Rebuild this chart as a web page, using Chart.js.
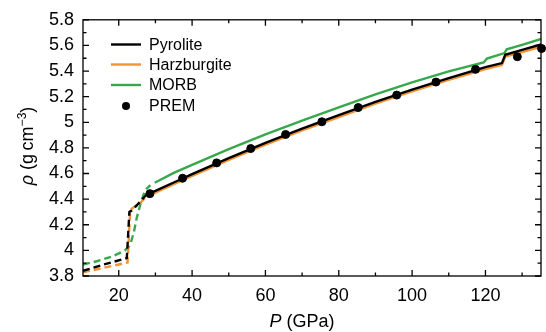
<!DOCTYPE html>
<html>
<head>
<meta charset="utf-8">
<script src="https://cdn.jsdelivr.net/npm/chart.js@4"></script>
<style>
	body { margin: 0; background: #fff; }
	canvas { display: block; }
</style>
</head>
<body>
<canvas id="chart" width="546" height="332"></canvas>
<script>
// axis ticks
const pressureTicks = [20, 40, 60, 80, 100, 120];
const pressureTickLabels = ['20', '40', '60', '80', '100', '120'];
const pressureMinor = [30, 50, 70, 90, 110, 130];
const densityTicks = [3.8, 4, 4.2, 4.4, 4.6, 4.8, 5, 5.2, 5.4, 5.6, 5.8];
const densityTickLabels = ['3.8', '4', '4.2', '4.4', '4.6', '4.8', '5', '5.2', '5.4', '5.6', '5.8'];
const densityMinor = [3.9, 4.1, 4.3, 4.5, 4.7, 4.9, 5.1, 5.3, 5.5, 5.7];

// pyrolite (dashed below ~28 GPa, solid above)
const pyroliteLowP = [10.25, 16, 22.2, 22.9, 23.9, 27.6];
const pyroliteLowRho = [3.84, 3.89, 3.94, 4.3, 4.32, 4.436];
const pyroliteP = [27.6, 30, 35, 40, 50, 60, 70, 80, 90, 100, 110, 120, 124.5, 125.4, 130, 135.2];
const pyroliteRho = [4.436, 4.465, 4.53, 4.595, 4.72, 4.84, 4.95, 5.055, 5.16, 5.255, 5.345, 5.43, 5.462, 5.527, 5.565, 5.607];

// harzburgite
const harzLowP = [10.25, 16, 22.4, 23.1, 23.5, 25.7, 27.6];
const harzLowRho = [3.828, 3.865, 3.905, 4.3, 4.325, 4.367, 4.42];
const harzP = [27.6, 30, 35, 40, 50, 60, 70, 80, 90, 100, 110, 120, 124.5, 125.4, 130, 135.2];
const harzRho = [4.42, 4.451, 4.516, 4.581, 4.706, 4.826, 4.936, 5.041, 5.146, 5.241, 5.331, 5.416, 5.448, 5.512, 5.548, 5.59];

// MORB
const morbLowP = [10.25, 14, 18, 21.6, 22.6, 23.2, 24.1, 24.9, 25.8, 26.7, 27.5, 28.6];
const morbLowRho = [3.89, 3.915, 3.95, 3.998, 4.025, 4.05, 4.14, 4.253, 4.35, 4.431, 4.478, 4.51];
const morbP = [29.8, 35, 40, 50, 60, 70, 80, 90, 100, 110, 119.5, 120.4, 125.2, 125.8, 130, 135.2];
const morbRho = [4.528, 4.605, 4.668, 4.79, 4.905, 5.012, 5.117, 5.218, 5.312, 5.397, 5.467, 5.497, 5.54, 5.57, 5.605, 5.65];

// PREM
const premP = [28.5, 37.4, 46.7, 56.0, 65.5, 75.4, 85.3, 95.8, 106.5, 117.3, 128.7, 135.3];
const premRho = [4.443, 4.563, 4.683, 4.795, 4.905, 5.004, 5.115, 5.212, 5.314, 5.413, 5.512, 5.576];

const BLACK = '#000000';
const ORANGE = '#f39237';
const GREEN = '#37a84c';
const FONT = "'Liberation Sans', Arial, sans-serif";

function points(xs, ys) {
	return xs.map((x, i) => ({ x, y: ys[i] }));
}

function line(label, xs, ys, color, dashed) {
	return {
		label,
		data: points(xs, ys),
		borderColor: color,
		backgroundColor: color,
		borderWidth: 2.4,
		borderDash: dashed ? [7, 4] : [],
		pointRadius: 0,
		tension: 0,
		showLine: true,
	};
}

const legendItems = [
	{ text: 'Pyrolite', color: BLACK, y: 44.5 },
	{ text: 'Harzburgite', color: ORANGE, y: 64.5 },
	{ text: 'MORB', color: GREEN, y: 85 },
	{ text: 'PREM', color: BLACK, y: 106, dot: true },
];

const framePlugin = {
	id: 'frame',
	afterDatasetsDraw(chart) {
		const { ctx, chartArea: a, scales } = chart;
		const x = scales.x;
		const y = scales.y;
		ctx.save();
		ctx.strokeStyle = '#000';
		ctx.lineWidth = 1.3;
		ctx.strokeRect(a.left, a.top, a.right - a.left, a.bottom - a.top);
		ctx.beginPath();
		const xt = (vals, len) => vals.forEach((v) => {
			const px = x.getPixelForValue(v);
			ctx.moveTo(px, a.bottom); ctx.lineTo(px, a.bottom - len);
			ctx.moveTo(px, a.top); ctx.lineTo(px, a.top + len);
		});
		const yt = (vals, len) => vals.forEach((v) => {
			const py = y.getPixelForValue(v);
			ctx.moveTo(a.left, py); ctx.lineTo(a.left + len, py);
			ctx.moveTo(a.right, py); ctx.lineTo(a.right - len, py);
		});
		xt(pressureTicks, 6);
		xt(pressureMinor, 3.5);
		yt(densityTicks, 6);
		yt(densityMinor, 3.5);
		ctx.stroke();

		// legend
		ctx.font = `16px ${FONT}`;
		ctx.textBaseline = 'middle';
		ctx.fillStyle = '#000';
		legendItems.forEach((it) => {
			if (it.dot) {
				ctx.beginPath();
				ctx.arc(126, it.y, 4, 0, Math.PI * 2);
				ctx.fillStyle = it.color;
				ctx.fill();
			} else {
				ctx.beginPath();
				ctx.strokeStyle = it.color;
				ctx.lineWidth = 2.4;
				ctx.moveTo(111, it.y);
				ctx.lineTo(141, it.y);
				ctx.stroke();
			}
			ctx.fillStyle = '#000';
			ctx.fillText(it.text, 149, it.y + 1);
		});

		// x title: P (GPa)
		ctx.font = `italic 18px ${FONT}`;
		const p1 = 'P';
		const w1 = ctx.measureText(p1).width;
		ctx.font = `18px ${FONT}`;
		const p2 = ' (GPa)';
		const w2 = ctx.measureText(p2).width;
		let sx = 302 - (w1 + w2) / 2;
		ctx.textBaseline = 'alphabetic';
		ctx.font = `italic 18px ${FONT}`;
		ctx.fillText(p1, sx, 327);
		ctx.font = `18px ${FONT}`;
		ctx.fillText(p2, sx + w1, 327);

		// y title: rho (g cm^-3)
		ctx.translate(33, 146);
		ctx.rotate(-Math.PI / 2);
		const parts = [
			{ t: '\u03c1', f: `italic 18px ${FONT}`, dy: 0 },
			{ t: ' (g\u2009cm', f: `18px ${FONT}`, dy: 0 },
			{ t: '\u22123', f: `12px ${FONT}`, dy: -7 },
			{ t: ')', f: `18px ${FONT}`, dy: 0 },
		];
		let total = 0;
		parts.forEach((p) => { ctx.font = p.f; p.w = ctx.measureText(p.t).width; total += p.w; });
		let cx = -total / 2;
		parts.forEach((p) => {
			ctx.font = p.f;
			ctx.fillText(p.t, cx, p.dy);
			cx += p.w;
		});
		ctx.restore();
	},
};

new Chart(document.getElementById('chart'), {
	type: 'scatter',
	data: {
		datasets: [
			{
				label: 'PREM',
				data: points(premP, premRho),
				backgroundColor: BLACK,
				borderColor: BLACK,
				pointRadius: 4,
				pointHoverRadius: 4,
				showLine: false,
				clip: false,
			},
			line('Pyrolite', pyroliteP, pyroliteRho, BLACK, false),
			line('Pyrolite low P', pyroliteLowP, pyroliteLowRho, BLACK, true),
			line('Harzburgite', harzP, harzRho, ORANGE, false),
			line('Harzburgite low P', harzLowP, harzLowRho, ORANGE, true),
			line('MORB', morbP, morbRho, GREEN, false),
			line('MORB low P', morbLowP, morbLowRho, GREEN, true),
		],
	},
	options: {
		responsive: false,
		animation: false,
		devicePixelRatio: 1,
		layout: { padding: { top: 14, right: 1, left: 0, bottom: 0 } },
		plugins: {
			legend: { display: false },
			tooltip: { enabled: false },
		},
		scales: {
			x: {
				type: 'linear',
				min: 10.25,
				max: 135.15,
				grid: { display: false, drawTicks: false },
				border: { display: false },
				afterBuildTicks: (s) => { s.ticks = pressureTicks.map((v) => ({ value: v })); },
				afterFit: (s) => { s.height = 56; },
				ticks: {
					padding: 9,
					maxRotation: 0,
					autoSkip: false,
					color: '#000',
					font: { family: FONT, size: 18 },
					callback: (v, i) => pressureTickLabels[i],
				},
			},
			y: {
				type: 'linear',
				min: 3.8,
				max: 5.8,
				grid: { display: false, drawTicks: false },
				border: { display: false },
				afterBuildTicks: (s) => { s.ticks = densityTicks.map((v) => ({ value: v })); },
				afterFit: (s) => { s.width = 83; },
				ticks: {
					padding: 9,
					autoSkip: false,
					color: '#000',
					font: { family: FONT, size: 18 },
					callback: (v, i) => densityTickLabels[i],
				},
			},
		},
	},
	plugins: [framePlugin],
});
</script>
</body>
</html>
